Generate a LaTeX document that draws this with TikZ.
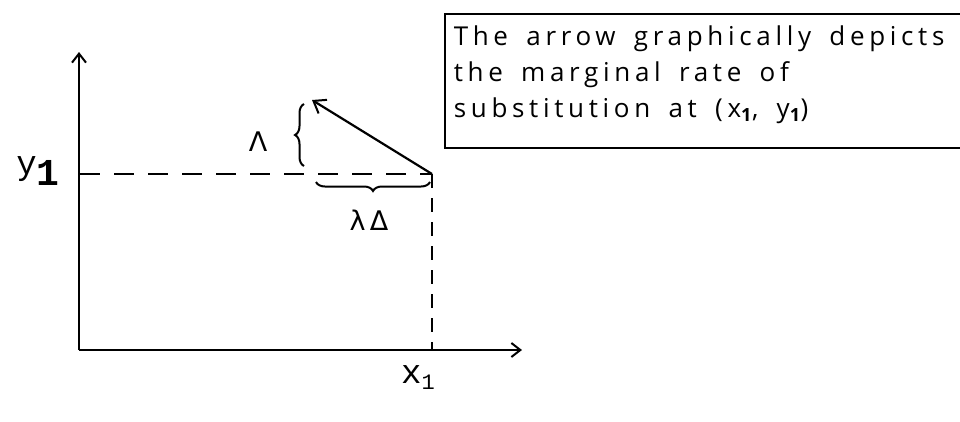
\documentclass[tikz,border=0pt]{standalone}
\usepackage{fontspec}
\setmainfont{Liberation Serif}
\newfontfamily\handfont[LetterSpace=18,WordSpace=1.6]{Open Sans}
\newfontfamily\typefont{Liberation Mono}
\newfontfamily\greekfont{DejaVu Sans}
\usetikzlibrary{arrows.meta,decorations.pathreplacing}
\tikzset{
  axisline/.style={line width=2.2pt,-{Straight Barb[length=9pt,width=14pt,line width=2pt]}},
  guide/.style={line width=2pt,dash pattern=on 20pt off 14pt},
  mrsarrow/.style={line width=2.2pt,-{Straight Barb[length=11pt,width=16pt,line width=2pt]}},
  bracestyle/.style={line width=2pt,decorate,decoration={brace,amplitude=9pt}},
  lbl/.style={font=\typefont\fontsize{34}{36}\selectfont},
  glbl/.style={font=\greekfont\fontsize{27}{30}\selectfont},
  notebox/.style={draw,line width=1.6pt,anchor=north west,inner xsep=9pt,inner ysep=0pt}
}
\begin{document}
\begin{tikzpicture}[x=1pt,y=-1pt]
\useasboundingbox (0,0) rectangle (960,421);
\coordinate (o) at (79,350);
\coordinate (ytop) at (79,52);
\coordinate (xend) at (522,350);
\coordinate (p) at (432,174);
\coordinate (ydash) at (80,174);
\coordinate (xdash) at (432,350);
\coordinate (tip) at (312,100);
\coordinate (vb1) at (304,166);
\coordinate (vb2) at (304,104);
\coordinate (hb1) at (316,182);
\coordinate (hb2) at (430,182);
\draw[axisline] (o) -- (ytop);
\draw[axisline] (o) -- (xend);
\draw[guide] (ydash) -- (p);
\draw[guide,dash pattern=on 14pt off 10pt] (p) -- (xdash);
\draw[mrsarrow] (p) -- (tip);
\draw[bracestyle] (vb1) -- (vb2);
\draw[bracestyle] (hb2) -- (hb1);
\node[lbl] (ylab) at (38,171) {y\raisebox{-11pt}{\fontsize{38}{38}\selectfont\bfseries 1}};
\node[lbl] (xlab) at (418,378) {x\raisebox{-6pt}{\fontsize{22}{22}\selectfont 1}};
\node[glbl] (dlab) at (258,142) {Λ};
\node[glbl] (llab) at (369,220) {λ\,Δ};
\node[notebox] (note) at (444,13) {\parbox[t][134pt][t]{500pt}{\handfont\fontsize{26}{36}\selectfont\baselineskip=36pt
  \vspace{12pt}The arrow graphically depicts\\the marginal rate of\\substitution at (x\textsubscript{\bfseries 1}, y\textsubscript{\bfseries 1})}};
\end{tikzpicture}
\end{document}
